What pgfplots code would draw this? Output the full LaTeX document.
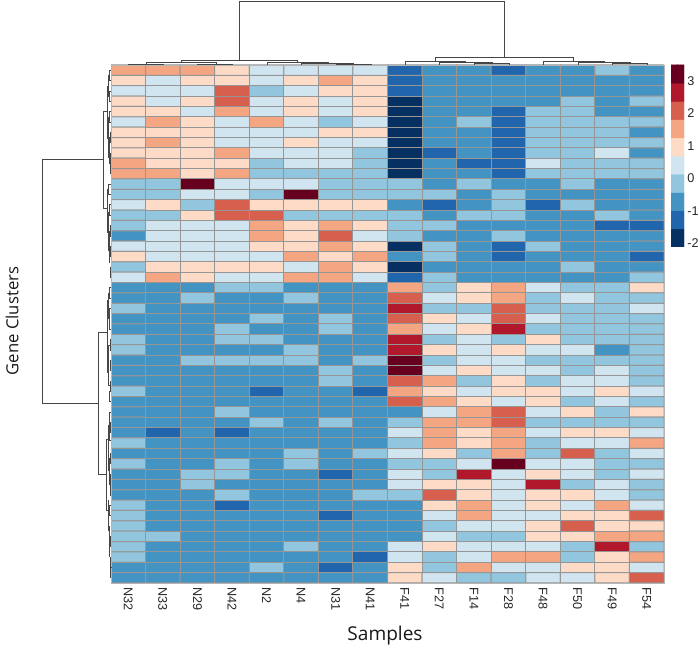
\documentclass[border=0pt]{standalone}
\usepackage{fontspec}
\setmainfont{Liberation Sans}
\newfontfamily\labfont{Open Sans}
\usepackage{pgfplots}
\pgfplotsset{compat=1.18}
% levels: 0 = -2 ... 9 = 3
\pgfplotsset{colormap={rdbu}{rgb255=(5,48,97) rgb255=(33,102,172) rgb255=(67,147,195) rgb255=(146,197,222) rgb255=(209,229,240)
  rgb255=(253,219,199) rgb255=(244,165,130) rgb255=(214,96,77) rgb255=(178,24,43) rgb255=(103,0,31)}}
\definecolor{grid}{RGB}{150,150,150}
\definecolor{tree}{RGB}{70,70,70}
\begin{document}
\begin{tikzpicture}
\path[use as bounding box] (0,0) rectangle (525pt,486pt);

\begin{axis}[
  at={(83.25pt,48.75pt)}, anchor=south west,
  scale only axis, width=414.75pt, height=388.5pt,
  xmin=-0.5, xmax=15.5, ymin=-0.5, ymax=49.5, y dir=reverse,
  colormap name=rdbu, colormap access=piecewise constant,
  point meta min=0, point meta max=9,
  xtick={0,...,15}, xticklabel pos=lower,
  xticklabels={N32,N33,N29,N42,N2,N4,N31,N41,F41,F27,F14,F28,F48,F50,F49,F54},
  x tick label style={rotate=-90, anchor=west, font=\fontsize{9.5}{10}\selectfont, text=black!85},
  ytick=\empty, major tick length=0pt,
  axis line style={draw=grid!70},
]
\addplot[matrix plot, faceted color=grid, draw=grid, line width=0.75pt, mesh/cols=16, point meta=explicit]
  table[row sep=\\, header=false, meta index=0,
        x expr={\coordindex-16*floor((\coordindex+0.5)/16)}, y expr={floor((\coordindex+0.5)/16)}] {
6\\6\\6\\5\\4\\4\\4\\4\\1\\2\\2\\1\\2\\2\\3\\2\\
5\\4\\5\\5\\4\\5\\6\\5\\1\\2\\2\\2\\2\\2\\2\\2\\
4\\4\\4\\7\\3\\4\\5\\5\\1\\2\\2\\2\\2\\2\\2\\2\\
5\\4\\5\\7\\4\\5\\4\\5\\0\\2\\2\\2\\2\\3\\2\\3\\
5\\5\\4\\6\\4\\5\\4\\5\\0\\2\\2\\1\\3\\3\\2\\2\\
4\\6\\5\\4\\6\\4\\3\\4\\0\\2\\3\\1\\3\\3\\3\\3\\
5\\5\\5\\4\\4\\4\\5\\5\\0\\2\\2\\1\\3\\3\\3\\2\\
5\\6\\5\\4\\4\\5\\4\\4\\0\\2\\2\\1\\3\\3\\3\\3\\
5\\5\\5\\6\\4\\4\\4\\3\\0\\1\\2\\1\\3\\3\\4\\2\\
6\\5\\5\\5\\3\\4\\4\\3\\0\\2\\1\\1\\4\\3\\3\\3\\
6\\6\\5\\6\\3\\3\\3\\3\\0\\2\\2\\1\\3\\3\\3\\3\\
3\\3\\9\\4\\4\\4\\3\\3\\3\\2\\3\\2\\2\\3\\2\\2\\
3\\3\\4\\4\\3\\9\\3\\3\\3\\3\\2\\3\\2\\2\\2\\2\\
4\\5\\3\\7\\5\\5\\5\\5\\2\\1\\2\\3\\1\\3\\2\\2\\
3\\3\\5\\7\\7\\3\\3\\3\\3\\2\\3\\3\\2\\2\\3\\2\\
3\\4\\4\\4\\6\\5\\6\\5\\3\\3\\2\\2\\2\\2\\1\\1\\
2\\4\\4\\4\\6\\5\\7\\4\\3\\2\\2\\3\\2\\2\\2\\2\\
4\\4\\4\\4\\5\\5\\6\\5\\0\\3\\2\\1\\3\\2\\2\\2\\
5\\4\\4\\4\\4\\6\\5\\6\\2\\3\\2\\1\\2\\2\\2\\1\\
3\\5\\5\\5\\5\\4\\6\\5\\0\\2\\2\\2\\2\\3\\2\\2\\
4\\6\\5\\4\\4\\6\\6\\4\\1\\3\\2\\2\\2\\2\\2\\3\\
2\\2\\2\\3\\3\\2\\2\\2\\6\\3\\5\\6\\4\\3\\3\\5\\
2\\2\\3\\2\\2\\3\\2\\2\\7\\4\\5\\6\\3\\4\\3\\3\\
3\\2\\2\\2\\2\\2\\2\\2\\8\\3\\3\\7\\3\\3\\3\\4\\
2\\2\\2\\2\\3\\2\\3\\2\\7\\5\\4\\7\\4\\3\\3\\3\\
2\\2\\2\\3\\2\\2\\3\\2\\6\\4\\5\\8\\3\\3\\3\\3\\
3\\2\\2\\3\\3\\2\\2\\2\\8\\3\\4\\3\\5\\3\\3\\3\\
3\\2\\2\\2\\2\\3\\2\\2\\8\\5\\4\\5\\4\\4\\2\\3\\
2\\2\\3\\3\\3\\3\\2\\3\\9\\3\\4\\4\\3\\3\\3\\3\\
2\\2\\2\\2\\2\\2\\3\\2\\9\\4\\5\\4\\4\\3\\4\\3\\
2\\2\\2\\2\\2\\2\\3\\2\\7\\6\\3\\5\\3\\4\\4\\3\\
3\\2\\2\\2\\1\\2\\2\\1\\6\\5\\4\\5\\5\\4\\5\\4\\
2\\2\\2\\2\\2\\2\\2\\2\\7\\6\\5\\4\\5\\3\\4\\3\\
2\\2\\2\\3\\2\\2\\2\\2\\2\\4\\6\\7\\4\\5\\3\\5\\
2\\2\\2\\2\\3\\2\\3\\2\\3\\6\\6\\7\\3\\3\\3\\3\\
2\\1\\2\\1\\2\\2\\2\\2\\4\\6\\5\\6\\4\\5\\5\\4\\
3\\2\\2\\2\\2\\2\\2\\2\\3\\6\\5\\6\\3\\4\\4\\6\\
2\\2\\2\\2\\2\\3\\2\\3\\4\\5\\3\\6\\3\\7\\3\\4\\
3\\2\\2\\3\\2\\3\\2\\2\\3\\3\\4\\9\\4\\4\\3\\3\\
2\\2\\3\\3\\2\\2\\1\\2\\4\\3\\8\\4\\5\\4\\3\\4\\
2\\2\\3\\2\\2\\2\\2\\2\\4\\5\\5\\4\\8\\3\\4\\3\\
2\\2\\2\\3\\2\\2\\2\\3\\3\\7\\5\\4\\5\\5\\4\\3\\
3\\2\\2\\1\\2\\2\\2\\2\\2\\5\\6\\4\\5\\4\\6\\4\\
3\\2\\2\\2\\2\\2\\1\\2\\2\\4\\6\\4\\4\\5\\5\\7\\
3\\2\\2\\2\\2\\2\\2\\2\\2\\3\\4\\4\\5\\7\\5\\5\\
3\\3\\2\\2\\2\\2\\2\\2\\2\\4\\3\\3\\5\\5\\6\\6\\
3\\2\\2\\2\\2\\3\\2\\2\\4\\5\\4\\4\\4\\3\\8\\3\\
3\\2\\2\\2\\2\\2\\2\\1\\4\\3\\4\\6\\6\\3\\5\\6\\
2\\2\\2\\2\\3\\2\\1\\2\\5\\3\\6\\4\\4\\5\\5\\4\\
2\\2\\2\\2\\2\\2\\2\\2\\5\\4\\3\\3\\4\\4\\5\\7\\
};
\end{axis}

% colour key, y in z-score units
\begin{axis}[
  at={(503.25pt,300.75pt)}, anchor=south west,
  scale only axis, width=9.75pt, height=136.5pt,
  xmin=-0.5, xmax=1.5, ymin=-2.12, ymax=3.49,
  colormap name=rdbu, colormap access=piecewise constant,
  point meta min=0, point meta max=9,
  xtick=\empty, ytick={-2,-1,0,1,2,3}, yticklabels={-2,-1,0,1,2,3},
  ytick pos=right, major tick length=0pt,
  y tick label style={font=\fontsize{9.5}{10}\selectfont, text=black!85, xshift=-1pt},
  axis line style={draw=none},
]
\addplot[matrix plot*, mesh/cols=2, point meta=explicit] table[meta=c] {
x y c
0 -1.8395 0
1 -1.8395 0
0 -1.2785 1
1 -1.2785 1
0 -0.7175 2
1 -0.7175 2
0 -0.1565 3
1 -0.1565 3
0 0.4045 4
1 0.4045 4
0 0.9655 5
1 0.9655 5
0 1.5265 6
1 1.5265 6
0 2.0875 7
1 2.0875 7
0 2.6485 8
1 2.6485 8
0 3.2095 9
1 3.2095 9
};
\end{axis}

% dendrograms and axis titles, in picture pixels
\begin{axis}[
  at={(0pt,0pt)}, anchor=south west,
  scale only axis, width=525pt, height=486pt,
  xmin=0, xmax=700, ymin=0, ymax=648, y dir=reverse,
  hide axis, clip=false, unbounded coords=jump,
]
% samples tree
\addplot[tree, line width=0.75pt, no marks] coordinates {
(239,61)(239,2)(504,2)(504,58) (nan,nan)
(181,63)(181,61)(297,61)(297,62.5) (nan,nan)
(146,64.5)(146,63)(216,63)(216,64.3) (nan,nan)
(128,65)(128,64.5)(163,64.5)(163,65) (nan,nan)
(197,65)(197,64.3)(232,64.3)(232,65) (nan,nan)
(267,65)(267,62.5)(328,62.5)(328,63.5) (nan,nan)
(301.7,65)(301.7,63.5)(353,63.5)(353,64.5) (nan,nan)
(336,65)(336,64.5)(371,64.5)(371,65) (nan,nan)
(435,62)(435,58)(573,58)(573,62) (nan,nan)
(405,65)(405,62)(465,62)(465,63) (nan,nan)
(439,65)(439,63)(492,63)(492,64) (nan,nan)
(474,65)(474,64)(509,64)(509,65) (nan,nan)
(543,65)(543,62)(604,62)(604,63) (nan,nan)
(578,65)(578,63)(630,63)(630,64) (nan,nan)
(612,65)(612,64)(647,64)(647,65)
};
% gene tree, main branches
\addplot[tree, line width=0.75pt, no marks] coordinates {
(103,160)(42,160)(42,404)(98,404) (nan,nan)
(107,112)(103,112)(103,209)(107,209) (nan,nan)
(107,333)(98,333)(98,475)(106,475) (nan,nan)
(108,440)(106,440)(106,511)(108,511)
};
% gene tree, shallow branches near the leaves
\addplot[tree, line width=0.55pt, no marks] coordinates {
(108,86)(107,86)(107,138)(108,138) (nan,nan)
(109.5,75.4)(108,75.4)(108,96.1)(109.5,96.1) (nan,nan)
(111,70.2)(109.5,70.2)(109.5,80.5)(111,80.5) (nan,nan)
(111,90.9)(109.5,90.9)(109.5,101.3)(111,101.3) (nan,nan)
(109.5,117)(108,117)(108,157)(109.5,157) (nan,nan)
(111,111.6)(109.5,111.6)(109.5,122)(111,122) (nan,nan)
(110,137.5)(109.5,137.5)(109.5,163)(110,163) (nan,nan)
(111,132.3)(110,132.3)(110,142.7)(111,142.7) (nan,nan)
(111,153)(110,153)(110,173.8)(111,173.8) (nan,nan)
(108,189.3)(107,189.3)(107,232)(108,232) (nan,nan)
(111,184.1)(108,184.1)(108,194.5)(111,194.5) (nan,nan)
(109,212)(108,212)(108,250)(109,250) (nan,nan)
(111,204.8)(109,204.8)(109,215.2)(111,215.2) (nan,nan)
(110,231)(109,231)(109,262)(110,262) (nan,nan)
(111,225.6)(110,225.6)(110,235.9)(111,235.9) (nan,nan)
(111,246.3)(110,246.3)(110,256.6)(111,256.6) (nan,nan)
(111,267)(110,267)(110,277.4)(111,277.4) (nan,nan)
(108,300)(107,300)(107,372)(108,372) (nan,nan)
(109.5,293)(108,293)(108,318)(109.5,318) (nan,nan)
(111,287.7)(109.5,287.7)(109.5,298.1)(111,298.1) (nan,nan)
(111,308.4)(109.5,308.4)(109.5,329.2)(111,329.2) (nan,nan)
(110,345)(108,345)(108,385)(110,385) (nan,nan)
(111,339.5)(110,339.5)(110,349.9)(111,349.9) (nan,nan)
(111,360.2)(110,360.2)(110,370.6)(111,370.6) (nan,nan)
(111,381)(110,381)(110,391.3)(111,391.3) (nan,nan)
(111,401.7)(109.5,401.7)(109.5,391)(110,391) (nan,nan)
(109,425)(108,425)(108,470)(109,470) (nan,nan)
(111,412)(109,412)(109,440)(111,440) (nan,nan)
(111,422.4)(110,422.4)(110,432.8)(111,432.8) (nan,nan)
(110,458)(109,458)(109,484.6)(110,484.6) (nan,nan)
(111,453.5)(110,453.5)(110,463.8)(111,463.8) (nan,nan)
(111,474.2)(110,474.2)(110,494.9)(111,494.9) (nan,nan)
(109,500)(108,500)(108,530)(109,530) (nan,nan)
(111,505.3)(109,505.3)(109,515.6)(111,515.6) (nan,nan)
(110,526)(109,526)(109,556)(110,556) (nan,nan)
(111,536.4)(110,536.4)(110,546.7)(111,546.7) (nan,nan)
(111,557.1)(110,557.1)(110,577.8)(111,577.8) (nan,nan)
(111,567.4)(110.5,567.4)
};
\node[font=\labfont\fontsize{14.3}{16}\selectfont, text=black!90] at (axis cs:385,636) {Samples};
\node[font=\labfont\fontsize{12.5}{15}\selectfont, text=black!90, rotate=90] at (axis cs:12,321) {Gene Clusters};
\end{axis}
\end{tikzpicture}
\end{document}
